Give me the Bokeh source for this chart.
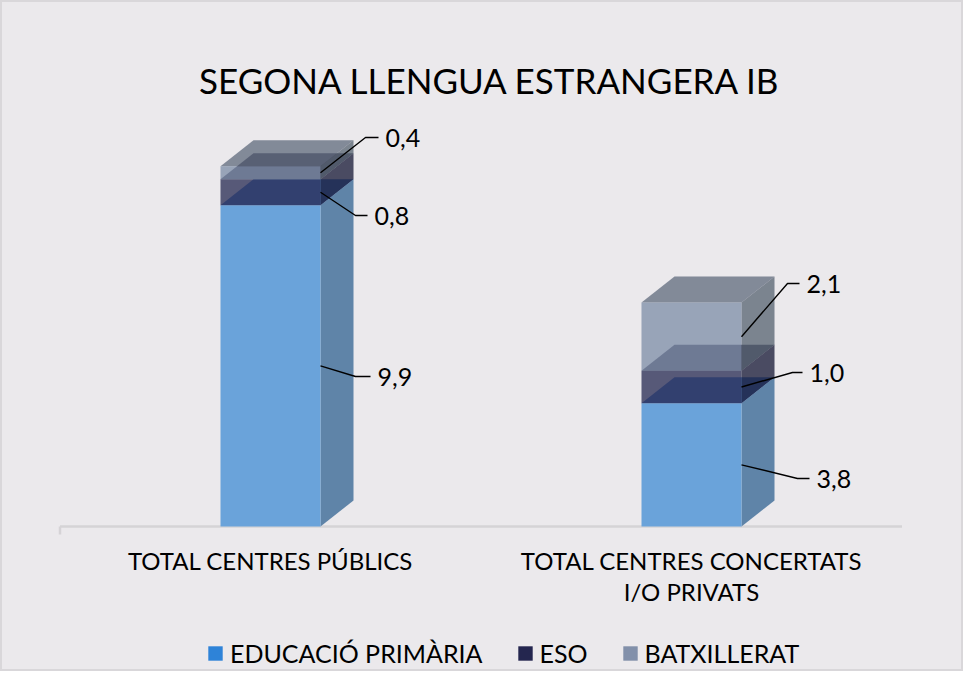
from bokeh.plotting import figure
from bokeh.models import Legend, LegendItem
from bokeh.core.properties import value
from bokeh.embed import file_html
from bokeh.resources import INLINE

# ---------------- data ----------------
title_text = "SEGONA LLENGUA ESTRANGERA IB"
categories = ["Total centres públics", "Total centres concertats i/o privats"]
category_labels = ["TOTAL CENTRES PÚBLICS", "TOTAL CENTRES CONCERTATS\nI/O PRIVATS"]
series_names = ["EDUCACIÓ PRIMÀRIA", "ESO", "BATXILLERAT"]
educacio_primaria = [9.9, 3.8]
eso = [0.8, 1.0]
batxillerat = [0.4, 2.1]

# ---------------- styling ----------------
BG = "#ebe9ec"
FONT = "Lato"
W, H = 963, 671
PX_X = 421.0          # px per category unit
PX_Y = 32.45          # px per value unit
BASE = 526.0          # canvas px of value 0 (from top)
CX0 = 270.0           # canvas px of first category centre

x_start = 1 - CX0 / PX_X
x_end = x_start + W / PX_X
y_end = BASE / PX_Y
y_start = -(H - BASE) / PX_Y


def dxp(px):
    return px / PX_X


def dyp(px):
    return px / PX_Y


def ycan(py):  # canvas-px (from top) -> data y
    return (BASE - py) / PX_Y


HW = dxp(50)   # half width of bar front
DX = dxp(33)   # depth offset x
DY = dyp(26)   # depth offset y

# face colours (front, side, top) and alpha per series
face_colors = [
    ("#6aa3da", "#5f84a8", "#5a88c5", 1.0),
    ("#262851", "#141634", "#0c0d2b", 0.75),
    ("#7c8ca7", "#566170", "#5f6a7c", 0.75),
]
legend_colors = ["#2e83d8", "#24264f", "#8290aa"]

# label leader placement (canvas px y of label, elbow px, horizontal px)
label_y_px = [[376, 215, 137], [478, 372, 283]]
elbow_px = [[35, 35, 45], [56, 51, 46]]
hline_px = [[15, 12, 13], [12, 10, 12]]

p = figure(width=W, height=H, x_range=(x_start, x_end), y_range=(y_start, y_end),
           x_axis_type=None, y_axis_type=None, toolbar_location=None,
           output_backend="svg", min_border=0,
           background_fill_color=BG, border_fill_color=BG,
           outline_line_color="#d9d7da", outline_line_width=3)

n = len(categories)
# baseline of the category axis
p.segment(x0=[0.5], y0=[0], x1=[n + 0.5], y1=[0], line_color="#d5d3d6", line_width=2.5)
p.segment(x0=[0.5], y0=[0], x1=[0.5], y1=[-dyp(8)], line_color="#d5d3d6", line_width=2.5)

series = [educacio_primaria, eso, batxillerat]
bottoms = [0.0] * n
seg_bounds = []
front_data = []
for s, vals in enumerate(series):
    fc, sc, tc, a = face_colors[s]
    lefts, rights, bots, tops = [], [], [], []
    side_xs, side_ys, top_xs, top_ys = [], [], [], []
    bounds = []
    for j in range(n):
        c = j + 1
        b = bottoms[j]
        t = b + vals[j]
        bounds.append((b, t))
        lefts.append(c - HW)
        rights.append(c + HW)
        bots.append(b)
        tops.append(t)
        side_xs.append([c + HW, c + HW + DX, c + HW + DX, c + HW])
        side_ys.append([b, b + DY, t + DY, t])
        top_xs.append([c - HW, c + HW, c + HW + DX, c - HW + DX])
        top_ys.append([t, t, t + DY, t + DY])
        bottoms[j] = t
    seg_bounds.append(bounds)
    front_data.append((lefts, rights, bots, tops))
    p.patches(xs=side_xs, ys=side_ys, fill_color=sc, fill_alpha=a, line_color=None)
    p.patches(xs=top_xs, ys=top_ys, fill_color=tc, fill_alpha=a, line_color=None)
    p.quad(left=lefts, right=rights, bottom=bots, top=tops, fill_color=fc,
           fill_alpha=a, line_color=None)

# data labels with leader lines
lx, ly, tx, ty, tt = [], [], [], [], []
for j in range(n):
    c = j + 1
    for s, vals in enumerate(series):
        b, t = seg_bounds[s][j]
        ax = c + HW
        ay = (b + t) / 2
        yl = ycan(label_y_px[j][s])
        ex = ax + dxp(elbow_px[j][s])
        hx = ex + dxp(hline_px[j][s])
        lx.append([ax, ex, hx])
        ly.append([ay, yl, yl])
        tx.append(hx + dxp(7))
        ty.append(yl)
        tt.append(f"{vals[j]:.1f}".replace(".", ","))
p.multi_line(xs=lx, ys=ly, line_color="black", line_width=1.4)
p.text(x=tx, y=ty, text=tt, text_font=value(FONT), text_font_size="25px",
       text_align="left", text_baseline="middle", text_color="black")

# title
p.text(x=[x_start + dxp(490)], y=[ycan(79)], text=[title_text], text_font=value(FONT),
       text_font_size="35px", text_align="center", text_baseline="middle",
       text_color="black")

# category labels
p.text(x=[j + 1 for j in range(n)], y=[ycan(545)] * n, text=category_labels,
       text_font=value(FONT), text_font_size="24px", text_align="center",
       text_baseline="top", text_color="black", text_line_height=1.1)

# legend (swatch renderers share the bar fronts but are hidden)
items = []
for s, name in enumerate(series_names):
    lefts, rights, bots, tops = front_data[s]
    r = p.quad(left=lefts, right=rights, bottom=bots, top=tops,
               fill_color=legend_colors[s], line_color=None, visible=False)
    items.append(LegendItem(label=name, renderers=[r]))
legend = Legend(items=items, orientation="horizontal", location=(206, 3),
                label_text_font=FONT, label_text_font_size="25px",
                label_text_color="black", glyph_width=18, glyph_height=18,
                label_standoff=6, spacing=33, padding=0, margin=0,
                background_fill_alpha=0, border_line_color=None,
                inactive_fill_alpha=0, click_policy="none")
p.add_layout(legend)

open("out.html", "w").write(file_html(p, INLINE))
